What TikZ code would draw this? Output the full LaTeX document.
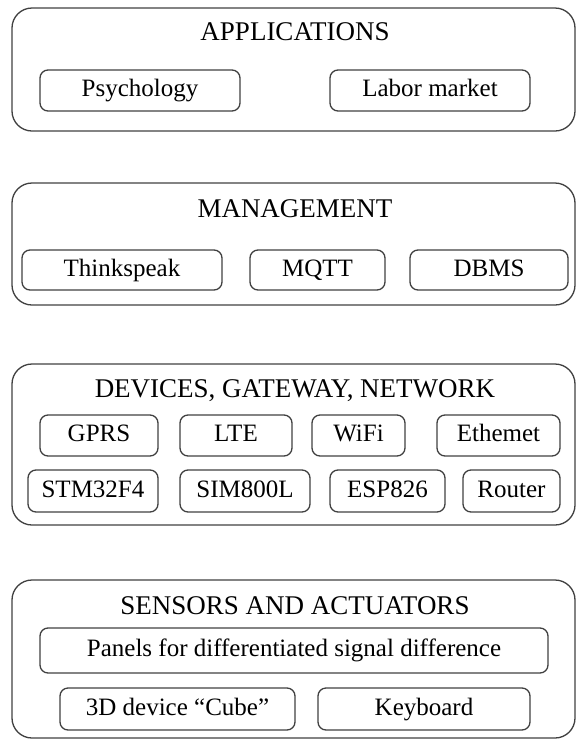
\documentclass[tikz,border=0pt]{standalone}
\usepackage{fontspec}
\setmainfont{Liberation Serif}
\begin{document}
\begin{tikzpicture}[x=1pt,y=-1pt,
  layer/.style={draw=black!75, line width=1.3pt, rounded corners=20pt, inner sep=0pt},
  item/.style={draw=black!75, line width=1.3pt, rounded corners=8pt, inner sep=0pt, text height=17pt, text depth=5pt, font=\fontsize{25}{28}\selectfont},
  ttl/.style={font=\fontsize{27}{30}\selectfont, inner sep=0pt, text height=18pt, text depth=5pt}]
\useasboundingbox (0,0) rectangle (576,740);
% APPLICATIONS
\node[layer, minimum width=563pt, minimum height=123pt] (L1) at (293.5,69.5) {};
\node[ttl] (t1) at (295,34) {APPLICATIONS};
\node[item, minimum width=200pt, minimum height=41pt] (psy) at (140,90.5) {Psychology};
\node[item, minimum width=200pt, minimum height=41pt] (lab) at (430,90.5) {Labor market};
% MANAGEMENT
\node[layer, minimum width=563pt, minimum height=122pt] (L2) at (293.5,244) {};
\node[ttl] (t2) at (295,211) {MANAGEMENT};
\node[item, minimum width=200pt, minimum height=40pt] (ts) at (122,270) {Thinkspeak};
\node[item, minimum width=135pt, minimum height=40pt] (mq) at (317.5,270) {MQTT};
\node[item, minimum width=158pt, minimum height=40pt] (db) at (489,270) {DBMS};
% DEVICES
\node[layer, minimum width=563pt, minimum height=161pt] (L3) at (293.5,444.5) {};
\node[ttl] (t3) at (295,391) {DEVICES, GATEWAY, NETWORK};
\node[item, minimum width=118pt, minimum height=41pt] (gp) at (99,435.5) {GPRS};
\node[item, minimum width=112pt, minimum height=41pt] (lte) at (236,435.5) {LTE};
\node[item, minimum width=93pt, minimum height=41pt] (wf) at (358.5,435.5) {WiFi};
\node[item, minimum width=123pt, minimum height=41pt] (eth) at (498.5,435.5) {Ethemet};
\node[item, minimum width=130pt, minimum height=42pt] (stm) at (93,491) {STM32F4};
\node[item, minimum width=130pt, minimum height=42pt] (sim) at (245,491) {SIM800L};
\node[item, minimum width=115pt, minimum height=42pt] (esp) at (387.5,491) {ESP826};
\node[item, minimum width=97pt, minimum height=42pt] (rt) at (511.5,491) {Router};
% SENSORS
\node[layer, minimum width=563pt, minimum height=158pt] (L4) at (293.5,659) {};
\node[ttl] (t4) at (295,608) {SENSORS AND ACTUATORS};
\node[item, minimum width=508pt, minimum height=45pt] (pan) at (294,650.5) {Panels for differentiated signal difference};
\node[item, minimum width=235pt, minimum height=42pt] (cube) at (177.5,709) {3D device “Cube”};
\node[item, minimum width=212pt, minimum height=42pt] (kb) at (424,709) {Keyboard};
\end{tikzpicture}
\end{document}
